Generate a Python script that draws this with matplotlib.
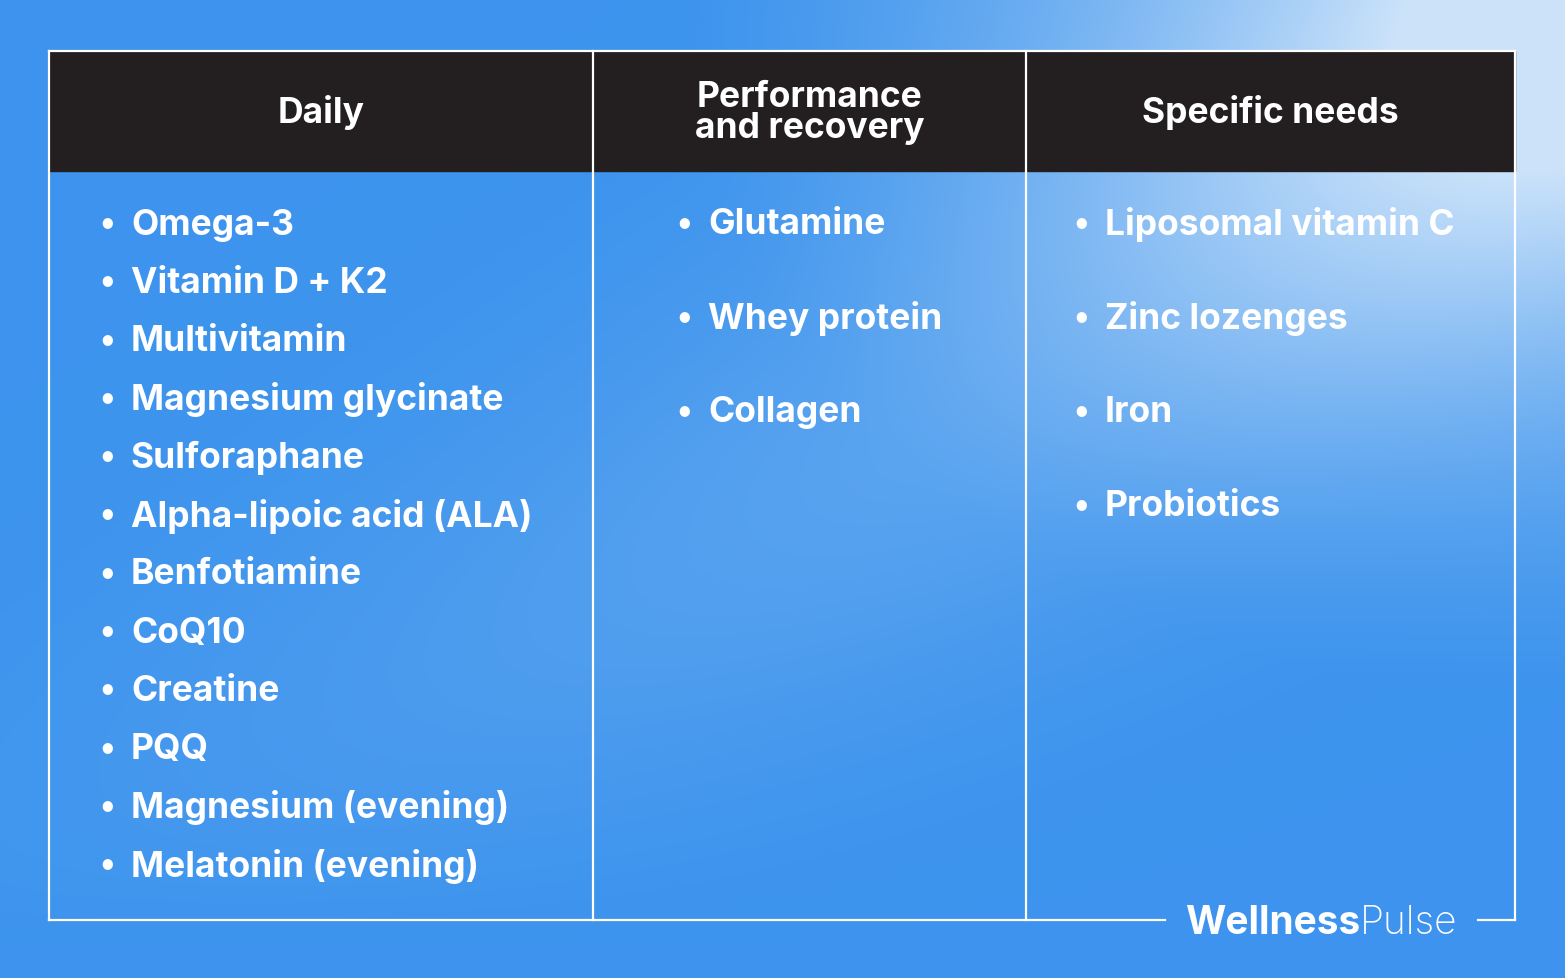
import matplotlib
matplotlib.use("Agg")
import matplotlib.pyplot as plt
import numpy as np

W, H = 1565, 979

headers = ["Daily", "Performance\nand recovery", "Specific needs"]
daily = ["Omega-3", "Vitamin D + K2", "Multivitamin", "Magnesium glycinate",
         "Sulforaphane", "Alpha-lipoic acid (ALA)", "Benfotiamine", "CoQ10",
         "Creatine", "PQQ", "Magnesium (evening)", "Melatonin (evening)"]
performance = ["Glutamine", "Whey protein", "Collagen"]
specific = ["Liposomal vitamin C", "Zinc lozenges", "Iron", "Probiotics"]

col_edges = [49, 593, 1026, 1515]
top, head_bot, bottom = 52, 172, 921
FONT = "Inter"

fig = plt.figure(figsize=(W / 100, H / 100), dpi=100)
ax = fig.add_axes([0, 0, 1, 1])
ax.set_xlim(0, W)
ax.set_ylim(H, 0)
ax.axis("off")

# background gradient: base blue, light top-right corner, light diagonal streak
yy, xx = np.mgrid[0:H, 0:W]
base = np.array([0.24, 0.58, 0.93])
light = np.array([0.80, 0.89, 0.98])
corner = np.clip(1 - np.hypot((xx - W) / 900, yy / 700), 0, 1) ** 1.4
d = (xx * 0.6 + yy - 1050) / 280
streak = 0.4 * np.exp(-d ** 2) * np.clip(1 - yy / 950, 0, 1)
t = np.clip(corner + streak, 0, 1)[..., None]
img = base * (1 - t) + light * t
ax.imshow(img, extent=(0, W, H, 0), zorder=0)

# header band
ax.fill_between([col_edges[0], col_edges[-1]], top, head_bot, color="#231f20", zorder=1)

lw = 1.6
ax.plot([col_edges[0], col_edges[-1]], [top, top], color="white", lw=lw, zorder=2)
ax.plot([col_edges[0], col_edges[0]], [top, bottom], color="white", lw=lw, zorder=2)
ax.plot([col_edges[-1], col_edges[-1]], [top, bottom], color="white", lw=lw, zorder=2)
for x in col_edges[1:-1]:
    ax.plot([x, x], [top, bottom], color="white", lw=lw, zorder=2)
ax.plot([col_edges[0], 1165], [bottom, bottom], color="white", lw=lw, zorder=2)
ax.plot([1478, col_edges[-1]], [bottom, bottom], color="white", lw=lw, zorder=2)

for i, h in enumerate(headers):
    cx = (col_edges[i] + col_edges[i + 1]) / 2
    ax.text(cx, (top + head_bot) / 2 + 1, h, color="white", fontsize=25.5, fontweight="bold",
            family=FONT, ha="center", va="center", linespacing=0.95, zorder=3)

def bullets(items, x, y0, step):
    for k, s in enumerate(items):
        y = y0 + k * step
        ax.text(x, y, "\u2022", color="white", fontsize=24, fontweight="bold",
                family=FONT, ha="center", va="center", zorder=3)
        ax.text(x + 24, y, s, color="white", fontsize=25.5, fontweight="bold",
                family=FONT, ha="left", va="center", zorder=3)

bullets(daily, 107, 225, 58.3)
bullets(performance, 684, 225, 94)
bullets(specific, 1081, 225, 94)

# logo
t1 = ax.text(1185, 924, "Wellness", color="white", fontsize=28, fontweight="bold",
             family=FONT, ha="left", va="center", zorder=3)
fig.canvas.draw()
bb = t1.get_window_extent().transformed(ax.transData.inverted())
ax.text(bb.x1, 924, "Pulse", color="white", fontsize=28, fontweight="light",
        family=FONT, ha="left", va="center", zorder=3)

fig.savefig("out.png", dpi=100)
